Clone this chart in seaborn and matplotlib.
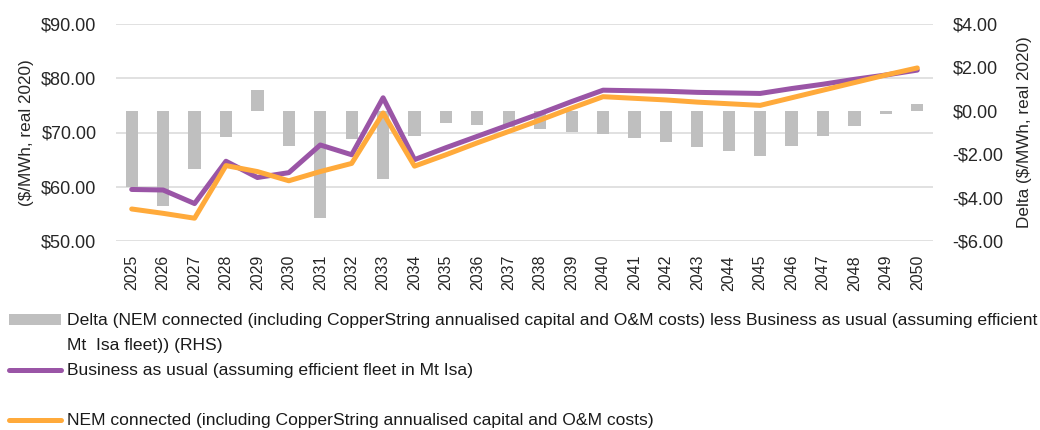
import numpy as np
import pandas as pd
import matplotlib
matplotlib.use("Agg")
import matplotlib.pyplot as plt
import seaborn as sns
from matplotlib.patches import Rectangle
from matplotlib.lines import Line2D
from matplotlib.ticker import FuncFormatter

# ---- data -------------------------------------------------------------
years = ["2025", "2026", "2027", "2028", "2029", "2030", "2031", "2032", "2033",
         "2034", "2035", "2036", "2037", "2038", "2039", "2040", "2041", "2042",
         "2043", "2044", "2045", "2046", "2047", "2048", "2049", "2050"]

# Business as usual (assuming efficient fleet in Mt Isa), $/MWh real 2020
bau = [59.5, 59.4, 56.9, 64.7, 61.7, 62.6, 67.7, 65.9, 76.4, 65.0,
       67.2, 69.3, 71.4, 73.5, 75.7, 77.8, 77.7, 77.6, 77.4, 77.3,
       77.2, 78.1, 78.9, 79.8, 80.6, 81.5]

# NEM connected (including CopperString annualised capital and O&M costs)
nem = [55.9, 55.1, 54.2, 63.9, 62.8, 61.1, 62.8, 64.3, 73.6, 63.8,
       65.9, 68.1, 70.2, 72.3, 74.5, 76.6, 76.3, 76.0, 75.6, 75.3,
       75.0, 76.4, 77.8, 79.2, 80.6, 81.9]

# Delta (RHS), $/MWh real 2020
delta = [-3.50, -4.39, -2.67, -1.19, 0.96, -1.60, -4.95, -1.31, -3.16, -1.16,
         -0.58, -0.65, -0.75, -0.85, -0.96, -1.05, -1.27, -1.45, -1.65, -1.85,
         -2.07, -1.61, -1.15, -0.68, -0.16, 0.31]

left_ticks = [50, 60, 70, 80, 90]
right_ticks = [-6, -4, -2, 0, 2, 4]

label_delta = ("Delta (NEM connected (including CopperString annualised capital and O&M costs) "
               "less Business as usual (assuming efficient\nMt  Isa fleet)) (RHS)")
label_bau = "Business as usual (assuming efficient fleet in Mt Isa)"
label_nem = "NEM connected (including CopperString annualised capital and O&M costs)"

# ---- style ------------------------------------------------------------
sns.set_theme(style="white")
plt.rcParams["font.family"] = ["Liberation Sans", "DejaVu Sans"]
plt.rcParams["text.color"] = "#1a1a1a"

PURPLE = "#9A55A6"
ORANGE = "#FFAA3B"
GREY = "#BFBFBF"
GRID = "#D9D9D9"

W, H = 1040, 430
fig = plt.figure(figsize=(W / 100, H / 100), dpi=100)
rect = [116 / W, 1 - 241 / H, (933 - 116) / W, (241 - 24) / H]


def money(v, _pos=None):
    return f"-${abs(v):.2f}" if v < 0 else f"${v:.2f}"


# base axes: gridlines, left scale, year labels
ax = fig.add_axes(rect)
ax.set_zorder(0)

# right-hand axes: delta bars
axb = ax.twinx()
axb.set_zorder(1)
df = pd.DataFrame({"year": years, "delta": delta})
sns.barplot(data=df, x="year", y="delta", ax=axb, color=GREY, width=0.39,
            saturation=1, edgecolor="none")
axb.set_ylim(-6, 4)
axb.set_yticks(right_ticks)
axb.yaxis.set_major_formatter(FuncFormatter(money))
axb.set_ylabel("Delta ($/MWh, real 2020)", fontsize=12.3, labelpad=10)
axb.tick_params(axis="y", length=0, pad=14, labelsize=13)

# line axes on top, same left scale
axl = fig.add_axes(rect)
axl.set_zorder(2)
pos = np.arange(len(years))
sns.lineplot(x=pos, y=bau, ax=axl, color=PURPLE, linewidth=3.6,
             solid_capstyle="round", solid_joinstyle="round")
sns.lineplot(x=pos, y=nem, ax=axl, color=ORANGE, linewidth=3.6,
             solid_capstyle="round", solid_joinstyle="round")
axl.set_xlim(-0.5, len(years) - 0.5)
axl.set_ylim(50, 90)
axl.set_axis_off()

ax.set_ylim(50, 90)
ax.set_yticks(left_ticks)
ax.yaxis.set_major_formatter(FuncFormatter(money))
ax.set_xticks(pos)
ax.set_xticklabels(years, rotation=90, fontsize=11.5)
ax.set_xlim(-0.5, len(years) - 0.5)
ax.tick_params(axis="x", length=0, pad=10)
ax.tick_params(axis="y", length=0, pad=14, labelsize=13)
ax.set_ylabel("($/MWh, real 2020)", fontsize=12.3, labelpad=5)
ax.set_xlabel("")
ax.grid(axis="y", color=GRID, linewidth=1.1)
ax.grid(axis="x", visible=False)
for a in (ax, axb):
    for s in a.spines.values():
        s.set_visible(False)

# ---- legend below the plot ------------------------------------------
LEG_FS = 12.6
fig.add_artist(Rectangle((9 / W, 1 - 325 / H), 52 / W, 11 / H,
                         transform=fig.transFigure, facecolor=GREY, edgecolor="none"))
fig.text(67 / W, 1 - 333 / H, label_delta, fontsize=LEG_FS, va="center", ha="left",
         linespacing=1.8)
fig.add_artist(Line2D([9 / W, 61 / W], [1 - 370 / H] * 2, transform=fig.transFigure,
                      color=PURPLE, linewidth=3.6, solid_capstyle="round"))
fig.text(67 / W, 1 - 370 / H, label_bau, fontsize=LEG_FS, va="center", ha="left")
fig.add_artist(Line2D([9 / W, 61 / W], [1 - 420 / H] * 2, transform=fig.transFigure,
                      color=ORANGE, linewidth=3.6, solid_capstyle="round"))
fig.text(67 / W, 1 - 420 / H, label_nem, fontsize=LEG_FS, va="center", ha="left")

fig.savefig("out.png", dpi=100)
